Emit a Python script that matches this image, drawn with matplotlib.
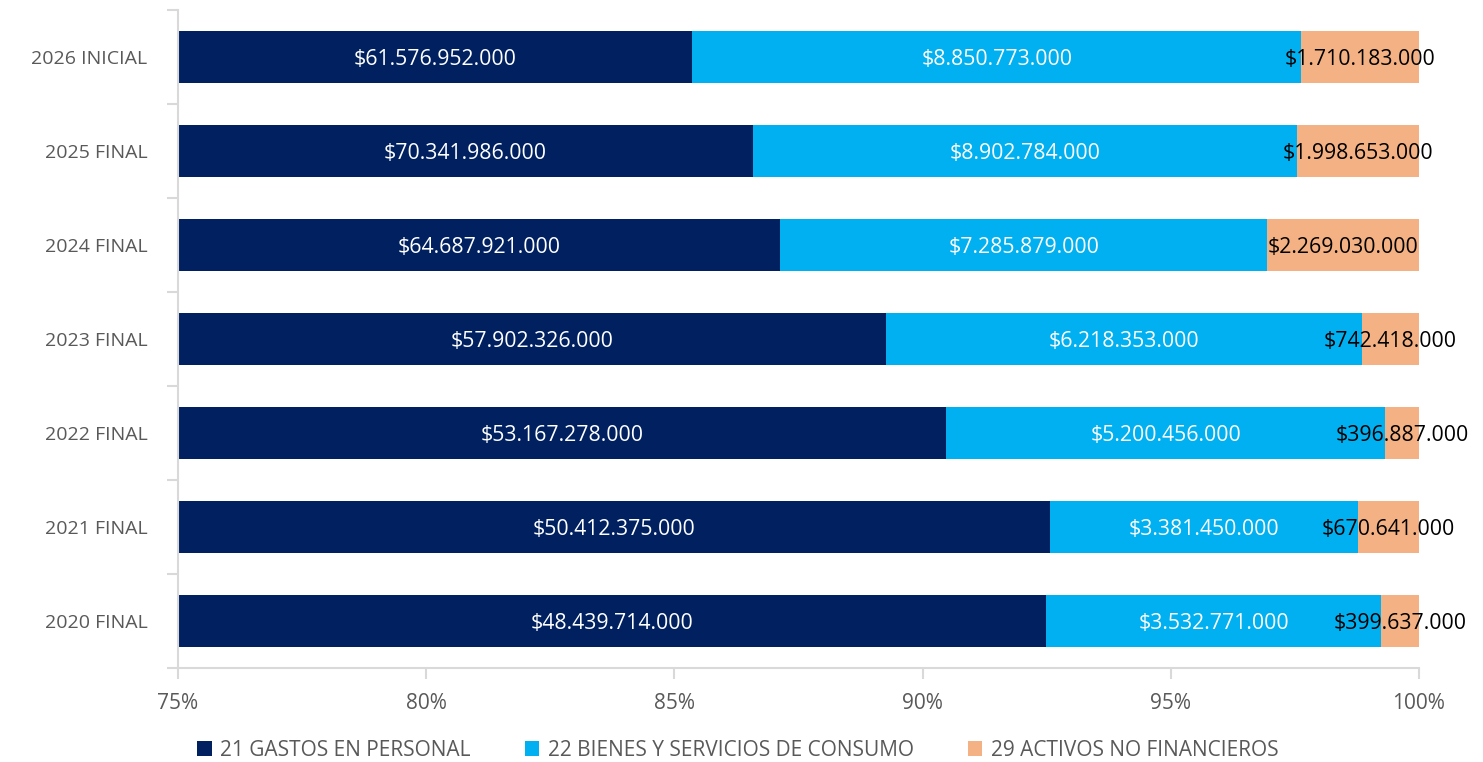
import numpy as np
import matplotlib.pyplot as plt

# data (bottom to top as drawn)
years = ['2020 FINAL', '2021 FINAL', '2022 FINAL', '2023 FINAL',
         '2024 FINAL', '2025 FINAL', '2026 INICIAL']
personal = [48439714000, 50412375000, 53167278000, 57902326000,
            64687921000, 70341986000, 61576952000]
bienes = [3532771000, 3381450000, 5200456000, 6218353000,
          7285879000, 8902784000, 8850773000]
activos = [399637000, 670641000, 396887000, 742418000,
           2269030000, 1998653000, 1710183000]
series_names = ['21 GASTOS EN PERSONAL', '22 BIENES Y SERVICIOS DE CONSUMO',
                '29 ACTIVOS NO FINANCIEROS']
colors = ['#002060', '#00B0F0', '#F4B183']
label_colors = ['white', 'white', 'black']

plt.rcParams['font.family'] = ['Open Sans', 'DejaVu Sans']


def fmt(v):
    return '$' + f'{v:,}'.replace(',', '.')


vals = np.array([personal, bienes, activos], dtype=float)
totals = vals.sum(axis=0)
pct = vals / totals * 100

fig = plt.figure(figsize=(14.83, 7.62), dpi=100)
ax = fig.add_axes([0.12, 0.1234, 0.8368, 0.8635])

y = np.arange(len(years))
xmin = 75
left = np.zeros(len(years))
for i in range(3):
    ax.barh(y, pct[i], left=left, height=0.56, color=colors[i],
            label=series_names[i], zorder=2)
    for j in range(len(years)):
        # label sits in the middle of the visible part of the segment
        start = max(left[j], xmin)
        end = left[j] + pct[i][j]
        ax.text((start + end) / 2, y[j], fmt(int(vals[i][j])),
                ha='center', va='center_baseline', color=label_colors[i],
                fontsize=15.3, zorder=3)
    left = left + pct[i]

ax.set_xlim(xmin, 100)
ax.set_ylim(-0.5, len(years) - 0.5)
ax.set_xticks([75, 80, 85, 90, 95, 100])
ax.set_xticklabels(['75%', '80%', '85%', '90%', '95%', '100%'])
ax.set_yticks(y)
ax.set_yticklabels(years)
ax.set_yticks(np.arange(-0.5, len(years), 1), minor=True)

for s in ['top', 'right']:
    ax.spines[s].set_visible(False)
for s in ['left', 'bottom']:
    ax.spines[s].set_color('#D9D9D9')
    ax.spines[s].set_linewidth(1.5)

ax.tick_params(axis='x', colors='#D9D9D9', labelcolor='#595959',
               labelsize=15, length=8, width=1.5, pad=10)
ax.tick_params(axis='y', which='major', length=0, labelcolor='#595959',
               labelsize=14, pad=22)
ax.tick_params(axis='y', which='minor', length=8, width=1.5, color='#D9D9D9')

ax.legend(loc='upper center', bbox_to_anchor=(0.451, -0.087), ncol=3,
          frameon=False, fontsize=15, handlelength=0.7, handleheight=0.7,
          handletextpad=0.4, columnspacing=2.6, labelcolor='#595959',
          borderpad=0.2)

fig.savefig('out.png', dpi=100)
